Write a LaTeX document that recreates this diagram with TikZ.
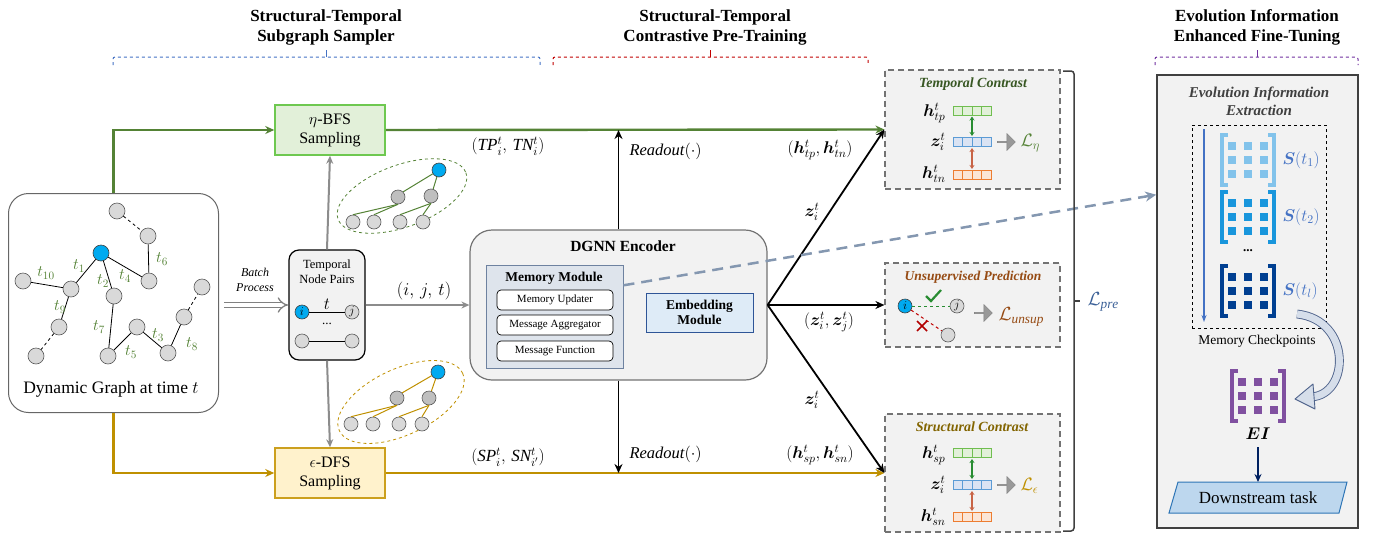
\RequirePackage{fix-cm}
\documentclass[tikz,border=0pt]{standalone}
\usepackage{amsmath}
\usepackage{bm}
\usepackage{fontspec}
\setmainfont{Liberation Serif}
\usetikzlibrary{arrows.meta,shapes.geometric,shapes.arrows,calc}

\definecolor{cgreen}{RGB}{84,130,53}
\definecolor{cgold}{RGB}{191,144,0}
\definecolor{nblue}{RGB}{0,170,240}
\definecolor{ngray}{RGB}{217,217,217}
\definecolor{bfsfill}{RGB}{226,240,217}
\definecolor{bfsdraw}{RGB}{110,200,80}
\definecolor{dfsfill}{RGB}{255,242,204}
\definecolor{dfsdraw}{RGB}{204,160,30}
\definecolor{pgray}{RGB}{242,242,242}
\definecolor{memfill}{RGB}{222,228,236}
\definecolor{memdraw}{RGB}{110,130,160}
\definecolor{embfill}{RGB}{222,235,247}
\definecolor{embdraw}{RGB}{47,85,151}
\definecolor{dashblue}{RGB}{132,151,176}
\definecolor{tcgreen}{RGB}{56,87,35}
\definecolor{upbrown}{RGB}{150,75,20}
\definecolor{scgold}{RGB}{130,100,0}
\definecolor{vgf}{RGB}{226,240,217}
\definecolor{vgd}{RGB}{112,190,80}
\definecolor{vbf}{RGB}{218,227,243}
\definecolor{vbd}{RGB}{91,155,213}
\definecolor{vof}{RGB}{251,229,214}
\definecolor{vod}{RGB}{237,125,49}
\definecolor{arrgreen}{RGB}{40,140,50}
\definecolor{arrorange}{RGB}{200,100,70}
\definecolor{hdrblue}{RGB}{68,114,196}
\definecolor{hdrred}{RGB}{192,0,0}
\definecolor{hdrpurple}{RGB}{112,48,160}
\definecolor{mone}{RGB}{130,195,235}
\definecolor{mtwo}{RGB}{25,150,220}
\definecolor{mthree}{RGB}{0,63,145}
\definecolor{mpurple}{RGB}{128,80,160}
\definecolor{lpre}{RGB}{58,95,150}
\definecolor{dsfill}{RGB}{189,215,238}
\definecolor{dsdraw}{RGB}{46,117,182}
\definecolor{navy}{RGB}{0,32,96}
\definecolor{curvefill}{RGB}{214,222,234}
\definecolor{curvedraw}{RGB}{80,100,140}

\newcommand{\cvec}[4]{\foreach \k in {0,1,2,3}{\draw[#4, fill=#3, line width=0.8pt] ({#1+9.5*\k},{#2-4.5}) rectangle ({#1+9.5*\k+9.5},{#2+4.5});}}
\newcommand{\mmat}[3]{%
 \draw[#3, line width=3.5pt] ({#1-20},{#2-25}) -- ({#1-26},{#2-25}) -- ({#1-26},{#2+25}) -- ({#1-20},{#2+25});
 \draw[#3, line width=3.5pt] ({#1+20},{#2-25}) -- ({#1+26},{#2-25}) -- ({#1+26},{#2+25}) -- ({#1+20},{#2+25});
 \foreach \i in {-1,0,1}{\foreach \j in {-1,0,1}{\fill[#3] ({#1+16*\i-4},{#2+14*\j-4}) rectangle ++(8,8);}}}

\tikzset{
 hdr/.style={font=\bfseries\fontsize{17}{20}\selectfont, align=center},
 gnode/.style={circle, draw=black!65, fill=ngray, minimum size=16pt, inner sep=0pt, line width=0.6pt},
 bnode/.style={gnode, fill=nblue, draw=black!75},
 snode/.style={gnode, minimum size=14pt},
 sbnode/.style={bnode, minimum size=14pt},
 tlab/.style={text=cgreen, font=\fontsize{16}{16}\selectfont, inner sep=0pt},
 gedge/.style={line width=0.8pt, black},
 greenline/.style={draw=cgreen, line width=2.4pt, -{Stealth[length=9pt,width=8pt]}},
 goldline/.style={draw=cgold, line width=2.4pt, -{Stealth[length=9pt,width=8pt]}},
 grayarrow/.style={draw=black!45, line width=2pt, -{Stealth[length=8pt,width=7pt]}},
 blkarrow/.style={draw=black, line width=1.8pt, -{Stealth[length=9pt,width=8pt]}},
 mlab/.style={font=\fontsize{17}{17}\selectfont},
 cbox/.style={draw=black!55, dashed, dash pattern=on 6pt off 4pt, line width=1.2pt, fill=pgray},
 inbox/.style={draw=black, fill=white, rounded corners=4pt, line width=0.7pt, minimum width=116pt, minimum height=20pt, font=\fontsize{11}{13}\selectfont},
 garr/.style={single arrow, draw=black!50, fill=black!40, minimum height=18pt, minimum width=17pt, single arrow head extend=2.5pt, inner sep=0pt},
 dbl/.style={line width=1.4pt},
}

\begin{document}
\begin{tikzpicture}[x=1pt,y=-1pt]
\useasboundingbox (0,0) rectangle (1374,533);

% ---------- headers ----------
\node[hdr] (h1) at (326,27) {Structural-Temporal\\Subgraph Sampler};
\node[hdr] (h2) at (715,27) {Structural-Temporal\\Contrastive Pre-Training};
\node[hdr] (h3) at (1257,27) {Evolution Information\\Enhanced Fine-Tuning};
\draw[hdrblue, dashed, line width=1pt, rounded corners=2pt] (113,65) -- (113,57) -- (540,57) -- (540,65);
\draw[hdrblue, line width=1pt] (326,57) -- (326,50);
\draw[hdrred, dashed, line width=1pt, rounded corners=2pt] (553,65) -- (553,57) -- (868,57) -- (868,65);
\draw[hdrred, line width=1pt] (710,57) -- (710,50);
\draw[hdrpurple, dashed, line width=1pt, rounded corners=2pt] (1155,65) -- (1155,57) -- (1358,57) -- (1358,65);
\draw[hdrpurple, line width=1pt] (1257,57) -- (1257,50);

% ---------- dynamic graph ----------
\node[draw=black!60, line width=1pt, rounded corners=20pt, minimum width=210pt, minimum height=219pt, anchor=north west] (dg) at (8,193) {};
\node[font=\fontsize{17.5}{19}\selectfont] (dgt) at (111,389) {Dynamic Graph at time $t$};
\node[gnode] (g1) at (117,211) {};
\node[gnode] (g2) at (148,236) {};
\node[bnode] (gb) at (101,253) {};
\node[gnode] (g4) at (149,281) {};
\node[gnode] (g10) at (23,281) {};
\node[gnode] (gj) at (71,289) {};
\node[gnode] (g2n) at (114,296) {};
\node[gnode] (g9) at (59,327) {};
\node[gnode] (gbl) at (36,356) {};
\node[gnode] (g7) at (108,356) {};
\node[gnode] (g5) at (137,327) {};
\node[gnode] (g3) at (168,353) {};
\node[gnode] (g8) at (184,317) {};
\node[gnode] (gtr) at (202,287) {};
\draw[gedge, dashed] (g1) -- (g2);
\draw[gedge] (g2) -- (g4);
\draw[gedge] (gb) -- (g4);
\draw[gedge] (gb) -- (gj);
\draw[gedge] (gb) -- (g2n);
\draw[gedge] (g10) -- (gj);
\draw[gedge] (gj) -- (g9);
\draw[gedge, dashed] (g9) -- (gbl);
\draw[gedge] (g2n) -- (g7);
\draw[gedge] (g7) -- (g5);
\draw[gedge] (g5) -- (g3);
\draw[gedge] (g3) -- (g8);
\draw[gedge, dashed] (g8) -- (gtr);
\node[tlab] (l6) at (162,259) {$t_6$};
\node[tlab] (l1) at (79,266) {$t_1$};
\node[tlab] (l4) at (125,276) {$t_4$};
\node[tlab] (l10) at (46,273) {$t_{10}$};
\node[tlab] (l2) at (103,281) {$t_2$};
\node[tlab] (l9) at (60,307) {$t_9$};
\node[tlab] (l7) at (99,327) {$t_7$};
\node[tlab] (l5) at (131,352) {$t_5$};
\node[tlab] (l3) at (158,335) {$t_3$};
\node[tlab] (l8) at (192,344) {$t_8$};

% ---------- samplers ----------
\node[draw=bfsdraw, fill=bfsfill, line width=1.5pt, minimum width=110pt, minimum height=50pt, align=center, font=\fontsize{16}{19}\selectfont] (bfs) at (330,130) {$\eta$-BFS\\Sampling};
\node[draw=dfsdraw, fill=dfsfill, line width=1.5pt, minimum width=110pt, minimum height=50pt, align=center, font=\fontsize{16}{19}\selectfont] (dfs) at (330,473) {$\epsilon$-DFS\\Sampling};
\draw[greenline] (dg.north) |- (bfs.west);
\draw[goldline] (dg.south) |- (dfs.west);

% batch process
\coordinate (bpa) at (224,305);
\coordinate (bpb) at (288,305);
\draw[black!50, double=white, double distance=4pt, line width=1.3pt, -{Implies}] (bpa) -- (bpb);
\node[font=\itshape\fontsize{12}{15}\selectfont, align=center] (bpl) at (255,280) {Batch\\Process};

% temporal node pairs
\node[draw=black, fill=pgray, line width=1.2pt, rounded corners=10pt, minimum width=76pt, minimum height=110pt] (tnp) at (327,305) {};
\node[align=center, font=\fontsize{12.5}{15}\selectfont] (tnpt) at (327,272) {Temporal\\Node Pairs};
\node[sbnode, font=\fontsize{12}{12}\selectfont] (pi) at (302,312) {$i$};
\node[snode, font=\fontsize{12}{12}\selectfont] (pj) at (352,312) {$j$};
\draw[gedge] (pi) -- (pj) node[midway, above=-1pt, font=\fontsize{17}{17}\selectfont] {$t$};
\node[font=\fontsize{13}{13}\selectfont] (pdots) at (327,324) {...};
\node[snode] (pk) at (302,341) {};
\node[snode] (pl) at (352,341) {};
\draw[gedge] (pk) -- (pl);
\draw[grayarrow] (tnp.north) -- (bfs.south);
\draw[grayarrow] (tnp.south) -- (dfs.north);

% BFS tree
\draw[cgreen, dashed, line width=0.8pt, rotate around={20:(402,196)}] (402,196) ellipse (68 and 31);
\node[sbnode] (ba) at (439,170) {};
\node[snode, fill=black!25] (bb) at (398,197) {};
\node[snode, fill=black!25] (bc) at (431,196) {};
\node[snode] (bd) at (353,222) {};
\node[snode] (be) at (374,222) {};
\node[snode] (bf) at (400,222) {};
\node[snode] (bg) at (423,222) {};
\draw[cgreen, line width=1pt] (ba) -- (bb.north east);
\draw[cgreen, line width=1pt] (ba) -- (bc);
\draw[cgreen, line width=1pt] (bb.south) -- (bd.north);
\draw[cgreen, line width=1pt] (bb.south) -- (be.north);
\draw[cgreen, line width=1pt] (bc.south) -- (bf.north);
\draw[cgreen, line width=1pt] (bc.south) -- (bg.north);

% DFS tree
\draw[cgold, dashed, line width=0.8pt, rotate around={25:(401,402)}] (401,402) ellipse (68 and 33);
\node[sbnode] (da) at (438,372) {};
\node[snode, fill=black!25] (db) at (397,398) {};
\node[snode, fill=black!25] (dc) at (429,398) {};
\node[snode] (dd) at (351,424) {};
\node[snode] (de) at (373,424) {};
\node[snode] (df) at (399,424) {};
\node[snode] (dh) at (422,424) {};
\draw[cgold, line width=1pt] (da) -- (db.north east);
\draw[cgold, line width=1pt] (da) -- (dc);
\draw[cgold, line width=1pt] (db.south) -- (dd.north);
\draw[cgold, line width=1pt] (db.south) -- (de.north);
\draw[cgold, line width=1pt] (dc.south) -- (df.north);
\draw[cgold, line width=1pt] (dc.south) -- (dh.north);

% ---------- DGNN encoder ----------
\node[draw=black!55, fill=pgray, line width=1.2pt, rounded corners=22pt, minimum width=297pt, minimum height=150pt] (dgnn) at (618.5,305) {};
\node[font=\bfseries\fontsize{15.5}{17}\selectfont] (dgnnt) at (623,246) {DGNN Encoder};
\node[draw=memdraw, fill=memfill, line width=1pt, minimum width=137pt, minimum height=103pt] (mem) at (554.5,316.5) {};
\node[font=\bfseries\fontsize{13.5}{15}\selectfont] (memt) at (554,278) {Memory Module};
\node[inbox] (mu) at (555,300) {Memory Updater};
\node[inbox] (ma) at (555,325) {Message Aggregator};
\node[inbox] (mf) at (555,351) {Message Function};
\node[draw=embdraw, fill=embfill, line width=1pt, minimum width=107pt, minimum height=39pt, align=center, font=\bfseries\fontsize{13.5}{15}\selectfont] (emb) at (699.5,312.5) {Embedding\\Module};

\draw[grayarrow] (tnp.east) -- (dgnn.west);
\node[mlab, font=\fontsize{18}{18}\selectfont] (ijt) at (424,291) {$(i,\,j,\,t)$};

% ---------- contrast boxes ----------
\node[cbox, minimum width=175pt, minimum height=119pt] (tc) at (972.5,129.5) {};
\node[cbox, minimum width=175pt, minimum height=84pt] (up) at (972.5,305) {};
\node[cbox, minimum width=175pt, minimum height=118pt] (sc) at (972.5,473) {};

\draw[greenline] (bfs.east) -- (tc.west);
\draw[goldline] (dfs.east) -- (sc.west);
\draw[blkarrow] (dgnn.north) -- (dgnn.north |- bfs.east);
\draw[blkarrow] (dgnn.south) -- (dgnn.south |- dfs.east);
\node[mlab, anchor=west, font=\fontsize{16.5}{17}\selectfont] (ro1) at (626,151) {$\mathit{Readout}(\cdot)$};
\node[mlab, anchor=west, font=\fontsize{16.5}{17}\selectfont] (ro2) at (626,454) {$\mathit{Readout}(\cdot)$};
\node[mlab] (tpn) at (508,146) {$(\mathit{TP}_i^t,\,\mathit{TN}_i^t)$};
\node[mlab] (spn) at (508,457) {$(\mathit{SP}_i^t,\,\mathit{SN}_{i'}^t)$};
\node[mlab] (htp) at (820,150) {$(\bm{h}_{tp}^t,\bm{h}_{tn}^t)$};
\node[mlab] (hsp) at (820,455) {$(\bm{h}_{sp}^t,\bm{h}_{sn}^t)$};

\coordinate (fan) at (dgnn.east);
\draw[blkarrow] (fan) -- (tc.west);
\draw[blkarrow] (fan) -- (up.west);
\draw[blkarrow] (fan) -- (sc.west);
\node[mlab] (z1) at (812,212) {$\bm{z}_i^t$};
\node[mlab] (z2) at (829,322) {$(\bm{z}_i^t,\bm{z}_j^t)$};
\node[mlab] (z3) at (812,400) {$\bm{z}_i^t$};

% dashed link to evolution panel
\node[draw=black!75, fill=pgray, line width=1.5pt, minimum width=201pt, minimum height=453pt] (ep) at (1257.5,301.5) {};
\coordinate (memc) at ($(mem.north east)!0.2!(mem.south east)$);
\coordinate (epin) at ($(ep.north west)!0.265!(ep.south west)$);
\draw[dashblue, line width=2.5pt, dash pattern=on 11pt off 7pt, -{Stealth[length=11pt,width=10pt]}] (memc) -- (epin);

% Temporal contrast content
\node[font=\bfseries\itshape\fontsize{14}{16}\selectfont, text=tcgreen] (tct) at (973,84) {Temporal Contrast};
\node[mlab, anchor=east] (tcl1) at (949,113) {$\bm{h}_{tp}^t$};
\node[mlab, anchor=east] (tcl2) at (949,142) {$\bm{z}_i^t$};
\node[mlab, anchor=east] (tcl3) at (949,174) {$\bm{h}_{tn}^t$};
\cvec{953}{110.5}{vgf}{vgd}
\cvec{953}{142}{vbf}{vbd}
\cvec{953}{175}{vof}{vod}
\draw[arrgreen, dbl, {Stealth[length=4pt,width=5pt]}-{Stealth[length=4pt,width=5pt]}] (972,116.5) -- (972,136);
\draw[arrorange, dbl, {Stealth[length=4pt,width=5pt]}-{Stealth[length=4pt,width=5pt]}] (972,148) -- (972,169);
\node[garr] (tca) at (1006,142) {};
\node[mlab, anchor=west, text=cgreen, font=\fontsize{18}{18}\selectfont] (leta) at (1017,143) {$\mathcal{L}_{\eta}$};

% Unsupervised prediction content
\node[font=\bfseries\itshape\fontsize{13.5}{16}\selectfont, text=upbrown] (upt) at (973,277) {Unsupervised Prediction};
\node[sbnode, font=\fontsize{12}{12}\selectfont] (ui) at (905,306) {$i$};
\node[snode, font=\fontsize{12}{12}\selectfont] (uj) at (957,306) {$j$};
\node[snode] (uk) at (948,335) {};
\draw[arrgreen, dashed, line width=1pt] (ui) -- (uj);
\draw[red!75!black, dashed, line width=1pt] (ui) -- (uk);
\coordinate (cka) at (926,296);
\coordinate (ckb) at (931,301);
\coordinate (ckc) at (941,290);
\draw[arrgreen, line width=2.2pt] (cka) -- (ckb) -- (ckc);
\coordinate (xa) at (917,321);
\coordinate (xb) at (927,331);
\coordinate (xc) at (927,321);
\coordinate (xd) at (917,331);
\draw[red!70!black, line width=1.6pt] (xa) -- (xb);
\draw[red!70!black, line width=1.6pt] (xc) -- (xd);
\node[garr] (upa) at (983,313) {};
\node[mlab, anchor=west, text=upbrown, font=\fontsize{19}{19}\selectfont] (lun) at (995,317) {$\mathcal{L}_{\mathit{unsup}}$};

% Structural contrast content
\node[font=\bfseries\itshape\fontsize{14}{16}\selectfont, text=scgold] (sct) at (972,427) {Structural Contrast};
\node[mlab, anchor=east] (scl1) at (949,455) {$\bm{h}_{sp}^t$};
\node[mlab, anchor=east] (scl2) at (949,485) {$\bm{z}_i^t$};
\node[mlab, anchor=east] (scl3) at (949,517) {$\bm{h}_{sn}^t$};
\cvec{953}{453}{vgf}{vgd}
\cvec{953}{485}{vbf}{vbd}
\cvec{953}{517}{vof}{vod}
\draw[arrgreen, dbl, {Stealth[length=4pt,width=5pt]}-{Stealth[length=4pt,width=5pt]}] (972,459) -- (972,479);
\draw[arrorange, dbl, {Stealth[length=4pt,width=5pt]}-{Stealth[length=4pt,width=5pt]}] (972,491) -- (972,511);
\node[garr] (sca) at (1006,485) {};
\node[mlab, anchor=west, text=cgold, font=\fontsize{18}{18}\selectfont] (leps) at (1017,486) {$\mathcal{L}_{\epsilon}$};

% L_pre brace
\draw[black!75, line width=1.5pt, rounded corners=3pt] (1063,71) -- (1074,71) -- (1074,531) -- (1063,531);
\draw[black!75, line width=1.5pt] (1074,301) -- (1080,301);
\node[mlab, text=lpre, anchor=west, font=\fontsize{19}{19}\selectfont] (lp) at (1084,302) {$\mathcal{L}_{\mathit{pre}}$};

% ---------- Evolution panel ----------
\node[font=\bfseries\itshape\fontsize{15}{18}\selectfont, text=black!75, align=center] (ept) at (1259,101) {Evolution Information\\Extraction};
\node[draw=black, dashed, line width=1pt, minimum width=134pt, minimum height=203pt] (mc) at (1259,226.5) {};
\coordinate (bla) at (1204,129);
\coordinate (blb) at (1204,322);
\draw[hdrblue, line width=1.2pt, -{Stealth[length=7pt,width=5pt]}] (bla) -- (blb);
\mmat{1248}{160}{mone}
\mmat{1248}{217}{mtwo}
\mmat{1248}{291}{mthree}
\node[font=\bfseries\fontsize{13}{13}\selectfont] (mdots) at (1248,251) {...};
\node[mlab, anchor=west, text=hdrblue, font=\fontsize{17}{17}\selectfont] (s1) at (1279,160) {$\bm{S}(t_1)$};
\node[mlab, anchor=west, text=hdrblue, font=\fontsize{17}{17}\selectfont] (s2) at (1279,217) {$\bm{S}(t_2)$};
\node[mlab, anchor=west, text=hdrblue, font=\fontsize{17}{17}\selectfont] (s3) at (1279,291) {$\bm{S}(t_l)$};
\node[font=\fontsize{13.5}{14}\selectfont] (mct) at (1257,341) {Memory Checkpoints};
% curved hollow arrow
\coordinate (cva) at (1297,314);
\coordinate (cvb) at (1311,397);
\draw[curvedraw, double=curvefill, double distance=7pt, line width=0.9pt] (cva) .. controls (1352,320) and (1350,395) .. (cvb);
\coordinate (cht) at (1295,399);
\coordinate (chb) at (1313,384);
\coordinate (chc) at (1315,409);
\draw[curvedraw, fill=curvefill, line width=0.9pt, line join=round] (cht) -- (chb) -- (chc) -- cycle;
\mmat{1258}{396}{mpurple}
\node[font=\bfseries\itshape\fontsize{17}{17}\selectfont] (ei) at (1258,434) {$\bm{E}\bm{I}$};
\fill[dsfill] (1178,482) -- (1347,482) -- (1339,513) -- (1169,513) -- cycle;
\draw[dsdraw, line width=1pt] (1178,482) -- (1347,482) -- (1339,513) -- (1169,513) -- cycle;
\node[font=\fontsize{17}{18}\selectfont] (ds) at (1258,498) {Downstream task};
\coordinate (eia) at (1258,447);
\draw[navy, line width=1.8pt, -{Stealth[length=8pt,width=7pt]}] (eia) -- (1258,482);
\end{tikzpicture}
\end{document}
